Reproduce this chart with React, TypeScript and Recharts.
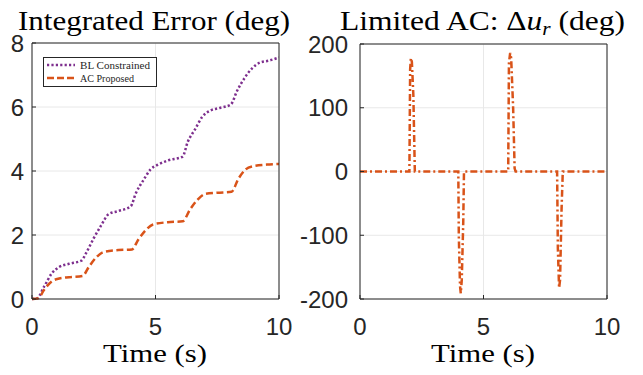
import React from "react";
import { LineChart, Line, XAxis, YAxis, CartesianGrid, Legend } from "recharts";

const blTime = [0, 0.2, 0.5, 0.8, 1.1, 1.5, 2.0, 2.2, 2.5, 2.8, 3.1, 3.5, 4.0, 4.2, 4.5, 4.8, 5.1, 5.5, 6.1, 6.3, 6.6, 6.9, 7.2, 7.6, 8.05, 8.3, 8.6, 8.9, 9.2, 9.6, 10];
const blValue = [0, 0.02, 0.4, 0.8, 1.0, 1.1, 1.2, 1.45, 1.9, 2.3, 2.65, 2.75, 2.9, 3.3, 3.7, 4.05, 4.2, 4.33, 4.45, 4.9, 5.3, 5.7, 5.88, 5.97, 6.08, 6.5, 6.9, 7.2, 7.38, 7.45, 7.55];

const acTime = [0, 0.25, 0.5, 0.8, 1.1, 1.5, 2.05, 2.3, 2.6, 2.9, 3.5, 4.05, 4.3, 4.6, 4.9, 5.5, 6.1, 6.4, 6.7, 7.0, 7.5, 8.08, 8.35, 8.65, 8.95, 9.5, 10];
const acValue = [0, 0.02, 0.3, 0.55, 0.64, 0.68, 0.72, 1.0, 1.3, 1.47, 1.53, 1.55, 1.85, 2.15, 2.33, 2.4, 2.43, 2.8, 3.1, 3.28, 3.32, 3.35, 3.75, 4.05, 4.15, 4.2, 4.22];

const duTime = [0, 2.0, 2.03, 2.06, 2.1, 2.16, 2.2, 2.22, 3.98, 4.0, 4.05, 4.08, 4.12, 4.18, 4.21, 6.0, 6.03, 6.08, 6.12, 6.2, 6.26, 6.3, 7.98, 8.01, 8.06, 8.1, 8.16, 8.21, 10];
const duValue = [0, 0, 160, 178, 172, 120, 40, 0, 0, -100, -180, -191, -170, -80, 0, 0, 170, 186, 178, 100, 5, 0, 0, -120, -183, -170, -60, 0, 0];

const xTicks = [0, 5, 10];
const leftYTicks = [0, 2, 4, 6, 8];
const rightYTicks = [-200, -100, 0, 100, 200];

const seriesNames = ["BL Constrained", "AC Proposed"];
const PURPLE = "#7E2F8E";
const ORANGE = "#D95319";
const AXIS = "#262626";
const GRID = "#e8e8e8";

const blData = blTime.map((t, i) => ({ t, v: blValue[i] }));
const acData = acTime.map((t, i) => ({ t, v: acValue[i] }));
const duData = duTime.map((t, i) => ({ t, v: duValue[i] }));

const tickStyle = { fontFamily: "Liberation Sans, Arial, sans-serif", fontSize: 24, fill: AXIS };
const serif = "Liberation Serif, Times New Roman, serif";

const LegendBox = () => (
  <svg width={114} height={30} style={{ display: "block" }}>
    <rect x={0.5} y={0.5} width={113} height={29} fill="#fff" stroke={AXIS} strokeWidth={1} />
    <line x1={4} x2={32} y1={8} y2={8} stroke={PURPLE} strokeWidth={2.4} strokeDasharray="2.2 2.2" />
    <text x={37} y={11.5} fontFamily={serif} fontSize={11} fill={AXIS} textLength={70} lengthAdjust="spacingAndGlyphs">{seriesNames[0]}</text>
    <line x1={4} x2={32} y1={21} y2={21} stroke={ORANGE} strokeWidth={2.4} strokeDasharray="7 3" />
    <text x={37} y={24.5} fontFamily={serif} fontSize={11} fill={AXIS} textLength={54} lengthAdjust="spacingAndGlyphs">{seriesNames[1]}</text>
  </svg>
);

export default function App() {
  return (
    <div style={{ position: "absolute", left: 0, top: 0, width: 643, height: 375, background: "#fff" }}>
      <div style={{ position: "absolute", left: 0, top: 0 }}>
        <LineChart width={320} height={375} margin={{ top: 43, right: 41, bottom: 46, left: 0 }}>
          <CartesianGrid stroke={GRID} strokeWidth={1} />
          <XAxis dataKey="t" type="number" domain={[0, 10]} ticks={xTicks} allowDataOverflow
            stroke={AXIS} tick={tickStyle} tickSize={-4} tickMargin={23} height={30} />
          <XAxis xAxisId="top" orientation="top" mirror type="number" domain={[0, 10]} ticks={xTicks}
            stroke={AXIS} tick={false} tickSize={4} height={1} />
          <YAxis type="number" domain={[0, 8]} ticks={leftYTicks} stroke={AXIS} tick={tickStyle}
            tickSize={-4} tickMargin={12} width={32} />
          <YAxis yAxisId="right" orientation="right" mirror type="number" domain={[0, 8]} ticks={leftYTicks}
            stroke={AXIS} tick={false} tickSize={4} width={1} />
          <Legend layout="horizontal" verticalAlign="middle" align="center" content={() => <LegendBox />}
            wrapperStyle={{ position: "absolute", left: 43, top: 57, width: 114, height: 30 }} />
          <Line data={blData} dataKey="v" name={seriesNames[0]} type="monotone" stroke={PURPLE} strokeWidth={2.5}
            strokeDasharray="2.2 2.2" dot={false} isAnimationActive={false} />
          <Line data={acData} dataKey="v" name={seriesNames[1]} type="monotone" stroke={ORANGE} strokeWidth={2.5}
            strokeDasharray="7 3.5" dot={false} isAnimationActive={false} />
        </LineChart>
      </div>
      <div style={{ position: "absolute", left: 290, top: 0 }}>
        <LineChart width={353} height={375} data={duData} margin={{ top: 44, right: 36, bottom: 46, left: 0 }}>
          <CartesianGrid stroke={GRID} strokeWidth={1} />
          <XAxis dataKey="t" type="number" domain={[0, 10]} ticks={xTicks} allowDataOverflow
            stroke={AXIS} tick={tickStyle} tickSize={-4} tickMargin={23} height={30} />
          <XAxis xAxisId="top" orientation="top" mirror type="number" domain={[0, 10]} ticks={xTicks}
            stroke={AXIS} tick={false} tickSize={4} height={1} />
          <YAxis type="number" domain={[-200, 200]} ticks={rightYTicks} stroke={AXIS} tick={tickStyle}
            tickSize={-4} tickMargin={16} width={70} />
          <YAxis yAxisId="right" orientation="right" mirror type="number" domain={[-200, 200]} ticks={rightYTicks}
            stroke={AXIS} tick={false} tickSize={4} width={1} />
          <Line dataKey="v" type="linear" stroke={ORANGE} strokeWidth={2.5}
            strokeDasharray="7 3 2 3" dot={false} isAnimationActive={false} />
        </LineChart>
      </div>
      <svg width={643} height={375} style={{ position: "absolute", left: 0, top: 0, pointerEvents: "none" }}>
        <text x={18} y={30} fontFamily={serif} fontSize={28} fill="#000" textLength={272} lengthAdjust="spacingAndGlyphs">Integrated Error (deg)</text>
        <text x={340} y={30} fontFamily={serif} fontSize={28} fill="#000" textLength={285} lengthAdjust="spacingAndGlyphs">
          Limited AC: Δ<tspan fontStyle="italic">u</tspan><tspan fontStyle="italic" fontSize={19} dy={5}>r</tspan><tspan dy={-5}> (deg)</tspan>
        </text>
        <text x={103} y={362} fontFamily={serif} fontSize={26} fill="#000" textLength={104} lengthAdjust="spacingAndGlyphs">Time (s)</text>
        <text x={431} y={362} fontFamily={serif} fontSize={26} fill="#000" textLength={104} lengthAdjust="spacingAndGlyphs">Time (s)</text>
      </svg>
    </div>
  );
}
